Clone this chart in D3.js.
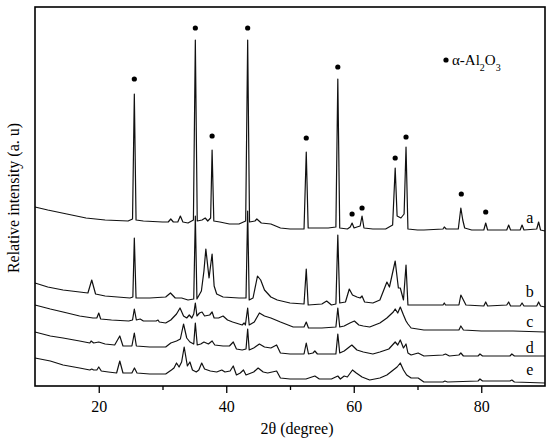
<!DOCTYPE html>
<html>
<head>
<meta charset="utf-8">
<script src="https://cdn.jsdelivr.net/npm/d3@7"></script>
<style>
	body { margin: 0; background: #fff; }
	svg { display: block; font-family: "Liberation Serif", "Times New Roman", serif; }
</style>
</head>
<body>
<svg width="550" height="445"></svg>
<script>
// XRD patterns, [2theta (deg), intensity (a.u.)], curves already offset as in the figure

const curveA = [
	[10, 179], [12, 176], [15, 172], [18, 168], [21, 166], [24.6, 165],
	[25.3, 167], [25.58, 292], [25.85, 166], [27, 165], [30, 164],
	[30.9, 164], [31.3, 167], [31.7, 164], [32.4, 164], [32.8, 170], [33.2, 164], [34.0, 163],
	[34.85, 166], [35.15, 346], [35.45, 165], [36.2, 166], [36.7, 168], [37.1, 165],
	[37.55, 168], [37.78, 236], [38.05, 165], [39, 164], [40.5, 162], [42, 162],
	[43.05, 165], [43.36, 346], [43.65, 164], [44.5, 165], [44.8, 167], [45.5, 163],
	[47, 162], [48.5, 158], [50, 157], [52.2, 157], [52.55, 234], [52.85, 158],
	[54, 158], [56, 158], [57.2, 159], [57.5, 307], [57.8, 158], [59, 157],
	[59.45, 159], [59.74, 163], [60.05, 158], [60.5, 159], [61.0, 160], [61.3, 170], [61.6, 158],
	[63, 157], [65, 157], [66.1, 161], [66.5, 218], [66.8, 170], [67.4, 168], [67.9, 172],
	[68.2, 239], [68.5, 157], [70, 156], [71, 156], [74, 157], [74.2, 159], [74.5, 157],
	[76.4, 157], [76.8, 178], [77.1, 166], [77.4, 158], [78.5, 156], [80.4, 156], [80.7, 163],
	[81.0, 156], [84.0, 156], [84.3, 161], [84.6, 156], [86.1, 156], [86.4, 161], [86.7, 156],
	[88.7, 157], [89.0, 164], [89.3, 156], [90, 155]
];

const curveB = [
	[10, 103], [12, 99], [14.4, 96], [17, 94], [18.3, 93], [18.9, 106], [19.5, 92], [21, 90],
	[24.9, 88], [25.35, 89], [25.58, 148], [25.85, 88], [28, 88], [30.5, 89], [31.25, 93],
	[32, 88], [33, 88], [34, 86], [34.9, 87], [35.15, 170], [35.4, 87], [36.1, 95], [36.5, 115],
	[36.8, 137], [37.3, 108], [37.78, 132], [38.1, 100], [38.5, 92], [39.5, 89], [42, 88],
	[43.1, 88], [43.36, 175], [43.6, 86], [44.2, 88], [44.9, 110], [45.4, 106], [46, 96],
	[47, 89], [48, 86], [50, 83], [52.2, 82], [52.55, 117], [52.85, 81], [55, 82], [55.75, 85],
	[56.5, 81], [57.2, 82], [57.5, 151], [57.8, 83], [58.7, 84], [59.3, 97], [59.8, 91],
	[60.5, 89], [61.0, 88], [61.3, 90], [61.7, 84], [63, 83], [64.1, 86], [65.2, 104],
	[65.6, 99], [66.5, 125], [67.0, 98], [67.3, 98], [67.8, 86], [68.2, 121], [68.5, 81],
	[70, 81], [74, 81], [74.2, 83], [74.4, 81], [76.5, 81], [76.8, 91], [77.2, 86], [77.6, 81],
	[80.4, 80], [80.7, 84], [81, 80], [84.0, 81], [84.3, 84], [84.6, 80], [86.1, 80],
	[86.4, 83], [86.7, 80], [88.7, 80], [89.0, 84], [89.3, 80], [90, 79]
];

const curveC = [
	[10, 81], [12.4, 77], [14.4, 74], [17, 70], [19.1, 68], [19.7, 68], [20.0, 73], [20.3, 67],
	[22, 66], [24.7, 65], [25.3, 66], [25.58, 77], [25.9, 66], [26.5, 67], [27, 65], [29, 65],
	[29.3, 66], [29.5, 64], [30.5, 63], [31.3, 66], [32.2, 72], [32.75, 78], [33.3, 70],
	[33.8, 68], [34.2, 71], [34.6, 68], [34.9, 72], [35.15, 83], [35.4, 70], [35.8, 73],
	[36.2, 74], [36.6, 70], [37.4, 71], [37.78, 74], [38.1, 68], [38.8, 68], [39.5, 70],
	[40.2, 66], [41, 64], [42.5, 61], [42.8, 63], [43.0, 61], [43.36, 78], [43.6, 61],
	[44.4, 64], [45.2, 73], [46, 70], [47, 68], [48.5, 64], [50.5, 59], [52.2, 59], [52.55, 64],
	[52.9, 58], [55, 58], [57.2, 59], [57.5, 78], [57.8, 59], [58.5, 60], [59.4, 63], [60.1, 65],
	[60.8, 61], [61.5, 60], [62.5, 59], [64.1, 63], [65.2, 68], [66.2, 74], [66.5, 77],
	[66.9, 73], [67.3, 79], [67.8, 71], [68.2, 65], [68.5, 62], [69, 58], [71, 56], [74, 56],
	[76.5, 56], [76.8, 60], [77.2, 56], [80, 55], [85, 55], [90, 54]
];

const curveD = [
	[10, 54], [12.4, 50], [14.4, 48], [17, 45], [18.6, 43], [18.8, 45], [19.2, 43], [20.0, 44],
	[21, 42], [22.5, 41], [23.3, 50], [23.8, 40], [25.2, 40], [25.58, 53], [25.9, 40], [28, 39],
	[30.5, 39], [31.3, 43], [32.2, 45], [32.8, 47], [33.3, 62], [33.8, 48], [34.3, 44],
	[34.9, 42], [35.15, 63], [35.45, 41], [36, 42], [36.5, 44], [37.2, 42], [37.78, 45],
	[38.2, 41], [39.5, 40], [40.5, 40], [41.1, 44], [41.6, 37], [42.5, 36], [43.1, 37],
	[43.36, 57], [43.6, 36], [44.3, 38], [45.2, 42], [46, 39], [47, 38], [47.9, 41], [48.5, 33],
	[50, 32], [52.2, 32], [52.55, 43], [52.9, 32], [53.6, 33], [53.9, 35], [54.3, 32], [56, 32],
	[57.2, 32], [57.5, 52], [57.8, 33], [58.5, 35], [59.7, 41], [60.5, 36], [61.5, 34], [63, 32],
	[64.1, 34], [65.5, 37], [66.5, 44], [66.9, 41], [67.3, 46], [67.8, 38], [68.2, 42],
	[68.5, 33], [69, 31], [70.1, 33], [71, 30], [74, 31], [74.4, 32], [75, 30], [76.5, 31],
	[76.8, 33], [77.2, 30], [79.5, 30], [79.8, 32], [80.2, 30], [84.5, 30], [84.8, 32],
	[85.2, 30], [90, 30]
];

const curveE = [
	[10, 28], [12.4, 25], [14.4, 21], [17, 18], [18.6, 16], [18.9, 17], [19.2, 16], [19.7, 16],
	[20.0, 19], [20.4, 15], [21.5, 14], [22.8, 13], [23.3, 25], [23.8, 13], [25.2, 13],
	[25.6, 18], [26, 13], [28, 12], [30.5, 12], [31.4, 16], [31.8, 18], [32.2, 23], [32.6, 19],
	[33.0, 24], [33.4, 39], [33.9, 20], [34.3, 24], [34.7, 16], [35.3, 14], [35.7, 16],
	[36.15, 23], [36.6, 17], [37.5, 15], [38.5, 14], [39.3, 16], [39.8, 14], [40.6, 15],
	[41.1, 20], [41.6, 11], [42.2, 13], [42.7, 16], [43.1, 11], [43.5, 12], [44.3, 14],
	[45.0, 18], [45.8, 14], [46.5, 13], [47.2, 14], [47.9, 15], [48.5, 8], [50, 7], [52.5, 7],
	[53.9, 10], [54.6, 7], [56.5, 7], [57.5, 10], [57.9, 7], [58.5, 10], [59, 9], [59.8, 16],
	[60.4, 13], [61.3, 9], [62.5, 6], [64.1, 8], [65.2, 11], [66.2, 16], [66.8, 19], [67.3, 23],
	[67.8, 16], [68.3, 11], [69.0, 8], [70.1, 8], [71, 4], [74, 4], [74.3, 5], [74.7, 4],
	[79.5, 5], [79.8, 7], [80.2, 5], [84.5, 5], [84.8, 6], [85.2, 4], [90, 3]
];

const curves = [curveA, curveB, curveC, curveD, curveE];
const curveNames = ["a", "b", "c", "d", "e"];
// intensity level where each name sits (a.u.)
const nameLevels = [163, 89, 59, 33, 11];

// alpha-Al2O3 reflections marked with a dot above pattern a
const peakMarks = [
	[25.58, 307], [35.15, 358], [37.78, 250], [43.36, 358], [52.55, 248], [57.5, 319],
	[59.74, 172], [61.3, 178], [66.5, 228], [68.2, 249], [76.87, 192], [80.7, 174]
];

const xTicks = [20, 40, 60, 80];
const xMinorTicks = [30, 50, 70];

//============= scales =============
const plotLeft = 35, plotRight = 545, plotTop = 7, plotBottom = 386;

let x = d3.scaleLinear().domain([10, 90]).range([plotLeft, plotRight]);
let y = d3.scaleLinear().domain([0, plotBottom - plotTop]).range([plotBottom, plotTop]);

let svg = d3.select("svg");

let line = d3.line()
	.x(function(d) { return x(d[0]); })
	.y(function(d) { return y(d[1]); });

//============= curves =============
svg.append("g").selectAll("path").data(curves).enter().append("path")
	.attr("d", line)
	.attr("fill", "none")
	.attr("stroke", "#111")
	.attr("stroke-width", 1.2)
	.attr("stroke-linejoin", "round");

svg.append("g").selectAll("circle").data(peakMarks).enter().append("circle")
	.attr("cx", function(d) { return x(d[0]); })
	.attr("cy", function(d) { return y(d[1]); })
	.attr("r", 2.6)
	.attr("fill", "#000");

svg.append("g").selectAll("text").data(curveNames).enter().append("text")
	.attr("x", x(87.6))
	.attr("y", function(d, i) { return y(nameLevels[i]); })
	.attr("text-anchor", "middle")
	.attr("font-size", 16)
	.text(function(d) { return d; });

//============= axes & frame =============
let xAxis = svg.append("g").attr("transform", "translate(0," + plotBottom + ")")
	.call(d3.axisBottom(x).tickValues(xTicks).tickSize(7).tickPadding(8).tickFormat(d3.format("d")));
xAxis.select(".domain").remove();
xAxis.attr("font-family", null).attr("font-size", null);
xAxis.selectAll("text").attr("font-size", 16).attr("fill", "#000");
xAxis.selectAll("line").attr("stroke-width", 1.3);

let xMinor = svg.append("g").attr("transform", "translate(0," + plotBottom + ")")
	.call(d3.axisBottom(x).tickValues(xMinorTicks).tickSize(4).tickFormat(""));
xMinor.select(".domain").remove();
xMinor.selectAll("line").attr("stroke-width", 1.3);

svg.append("rect")
	.attr("x", plotLeft).attr("y", plotTop)
	.attr("width", plotRight - plotLeft).attr("height", plotBottom - plotTop)
	.attr("fill", "none").attr("stroke", "#000").attr("stroke-width", 1.6);

svg.append("text")
	.attr("x", 297).attr("y", 434)
	.attr("text-anchor", "middle")
	.attr("font-size", 16)
	.text("2θ (degree)");

svg.append("text")
	.attr("transform", "translate(19,198) rotate(-90)")
	.attr("text-anchor", "middle")
	.attr("font-size", 16)
	.text("Relative intensity (a. u)");

//============= legend =============
svg.append("circle").attr("cx", 446).attr("cy", 60).attr("r", 2.6).attr("fill", "#000");
let leg = svg.append("text").attr("x", 452).attr("y", 65).attr("font-size", 15);
leg.append("tspan").text("α-Al");
leg.append("tspan").attr("dy", 6).attr("font-size", 10).text("2");
leg.append("tspan").attr("dy", -6).text("O");
leg.append("tspan").attr("dy", 6).attr("font-size", 10).text("3");
</script>
</body>
</html>
